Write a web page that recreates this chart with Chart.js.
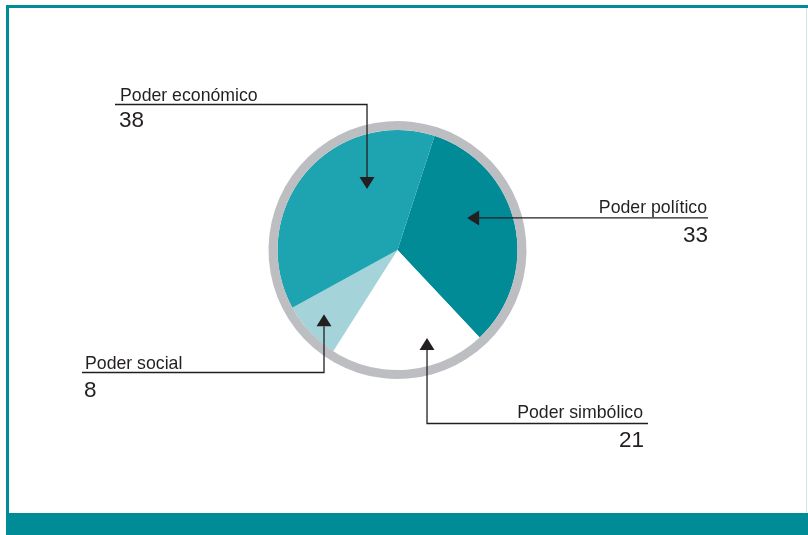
<!DOCTYPE html>
<html>
<head>
<meta charset="utf-8">
<script src="https://cdn.jsdelivr.net/npm/chart.js@4.4.1/dist/chart.umd.min.js"></script>
<style>
  html, body { margin: 0; padding: 0; background: #ffffff; }
  #wrap { width: 808px; height: 535px; position: relative; }
  canvas { display: block; }
</style>
</head>
<body>
<div id="wrap"><canvas id="c" width="808" height="535"></canvas></div>
<script>
// ---- data ----
const categories = ["Poder político", "Poder simbólico", "Poder social", "Poder económico"];
const values = [33, 21, 8, 38];
const valueLabels = ["33", "21", "8", "38"];

// ---- styles ----
const sliceColors = ["#008b97", "#ffffff", "#a4d3d9", "#1ea4b0"];
const ringColor = "#bdbec1";
const frameTeal = "#008c96";
const ink = "#231f20";

// callout layout: arrow tip relative to pie centre (fraction of pie radius),
// path via elbow, and text placement
const callouts = [
  { // político
    tip: [0.58, -0.267], dir: "left", path: [[708, null]],
    text: { x: 707, y: 213, align: "right" }, num: { x: 708, y: 242, align: "right" }
  },
  { // simbólico
    tip: [0.246, 0.733], dir: "up", path: [[null, 423.5], [648, null]],
    text: { x: 643, y: 418, align: "right" }, num: { x: 644, y: 447, align: "right" }
  },
  { // social
    tip: [-0.6125, 0.535], dir: "up", path: [[null, 372.5], [82, null]],
    text: { x: 85, y: 369, align: "left" }, num: { x: 84, y: 397, align: "left" }
  },
  { // económico
    tip: [-0.254, -0.508], dir: "down", path: [[null, 104.5], [115, null]],
    text: { x: 120, y: 101, align: "left" }, num: { x: 119, y: 127, align: "left" }
  }
];

const framePlugin = {
  id: "frame",
  beforeDraw(chart) {
    const ctx = chart.ctx;
    ctx.save();
    ctx.fillStyle = "#ffffff";
    ctx.fillRect(0, 0, 808, 535);
    ctx.fillStyle = frameTeal;
    ctx.fillRect(6, 5, 802, 3);      // top
    ctx.fillRect(6, 5, 3, 530);      // left
    ctx.fillRect(6, 513, 802, 22);   // bottom bar
    ctx.fillStyle = "#d3e4e6";
    ctx.fillRect(806, 8, 1, 505);    // right faint edge
    ctx.restore();
  }
};

const calloutPlugin = {
  id: "callouts",
  afterDraw(chart) {
    const meta = chart.getDatasetMeta(1);
    const ctx = chart.ctx;
    ctx.save();
    meta.data.forEach((arc, i) => {
      const c = callouts[i];
      const R = arc.outerRadius;
      const tx = arc.x + c.tip[0] * R;
      const ty = arc.y + c.tip[1] * R;
      const L = 12, H = 7.5;
      let bx = tx, by = ty;
      if (c.dir === "left") bx = tx + L;
      if (c.dir === "up") by = ty + L;
      if (c.dir === "down") by = ty - L;
      ctx.strokeStyle = ink;
      ctx.lineWidth = 1.3;
      ctx.beginPath();
      ctx.moveTo(bx, by);
      let px = bx, py = by;
      c.path.forEach(p => {
        if (p[0] !== null) px = p[0];
        if (p[1] !== null) py = p[1];
        ctx.lineTo(px, py);
      });
      ctx.stroke();
      ctx.fillStyle = ink;
      ctx.beginPath();
      ctx.moveTo(tx, ty);
      if (c.dir === "left") { ctx.lineTo(bx, ty - H); ctx.lineTo(bx, ty + H); }
      else { ctx.lineTo(tx - H, by); ctx.lineTo(tx + H, by); }
      ctx.closePath();
      ctx.fill();
      ctx.fillStyle = ink;
      ctx.textBaseline = "alphabetic";
      ctx.font = "17.7px 'Liberation Sans', Arial, sans-serif";
      ctx.textAlign = c.text.align;
      ctx.fillText(chart.data.labels[i], c.text.x, c.text.y);
      ctx.font = "22.5px 'Liberation Sans', Arial, sans-serif";
      ctx.textAlign = c.num.align;
      ctx.fillText(valueLabels[i], c.num.x, c.num.y);
    });
    ctx.restore();
  }
};

new Chart(document.getElementById("c"), {
  type: "doughnut",
  data: {
    labels: categories,
    datasets: [
      { data: [1], backgroundColor: [ringColor], borderWidth: 0, weight: 9, hoverOffset: 0 },
      { data: values, backgroundColor: sliceColors, borderWidth: 0, weight: 120, hoverOffset: 0 }
    ]
  },
  options: {
    responsive: false,
    animation: false,
    cutout: 0,
    rotation: 18,
    events: [],
    layout: { padding: { left: 268, right: 281, top: 121, bottom: 156 } },
    plugins: { legend: { display: false }, tooltip: { enabled: false } }
  },
  plugins: [framePlugin, calloutPlugin]
});
</script>
</body>
</html>
